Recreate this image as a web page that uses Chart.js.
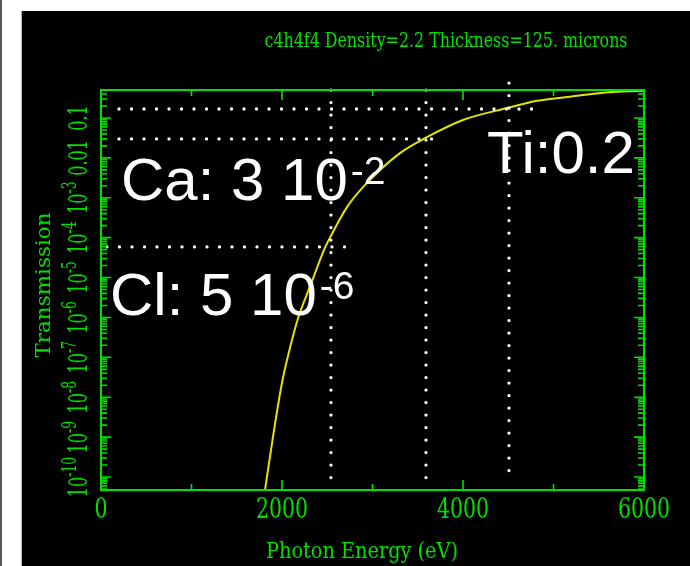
<!DOCTYPE html>
<html lang="en">
<head>
<meta charset="UTF-8">
<title>c4h4f4 transmission</title>
<script src="https://cdn.jsdelivr.net/npm/chart.js"></script>
<style>
  html, body { margin: 0; padding: 0; background: #fff; }
  body { width: 690px; height: 566px; position: relative; overflow: hidden; }
  #edge { position: absolute; left: 0; top: 0; width: 2px; height: 566px; background: #5a5a5a; }
  #panel { position: absolute; left: 21px; top: 11px; width: 669px; height: 555px; background: #000; border-left: 1px solid #b4b4b4; box-sizing: border-box; }
  #wrap { position: absolute; left: 0; top: 0; width: 690px; height: 566px; }
</style>
</head>
<body>
<div id="edge"></div>
<div id="panel"></div>
<div id="wrap"><canvas id="plot"></canvas></div>
<script>
// transmission curve
const energy = [1812, 1900, 2000, 2090, 2180, 2310, 2475, 2530, 2720, 2900, 3300, 3590, 4000, 4500, 4820, 5180, 5550, 6000];
const transmission = [4.7e-11, 1.0e-9, 2.3e-8, 1.8e-7, 1.0e-6, 6.0e-6, 5.6e-5, 1.0e-4, 5.9e-4, 1.9e-3, 1.3e-2, 3.2e-2, 8.9e-2, 0.18, 0.27, 0.34, 0.43, 0.48];

// marked lines (Cl, Ca, Ti)
const lineEnergy = [2541, 3591, 4508];
const lineLevel = [5.85e-5, 0.0298, 0.168];
const hLineFrom = [66, 199, 199];
const hLineTo = [2818, 3779, 4884];
const vLineTop = [0.5, 0.5, 0.75];
const vLineBottom = [5.6e-11, 5.6e-11, 7.9e-11];
const lineText = ['Cl: 5 10', 'Ca: 3 10', 'Ti:0.2'];
const lineSup = ['-6', '-2', ''];

const xMajor = [0, 2000, 4000, 6000];
const xMinor = [1000, 3000, 5000];
const yDecades = [-10, -9, -8, -7, -6, -5, -4, -3, -2, -1];

const GREEN = 'rgb(0,225,0)';
const SERIF = '"DejaVu Serif", "Liberation Serif", serif';

const datasets = [];
lineEnergy.forEach((e, i) => {
    const dotted = { borderColor: '#fff', borderWidth: 3.3, borderDash: [0, 12.5], borderCapStyle: 'round',
        pointRadius: 0, clip: false, tension: 0 };
    datasets.push(Object.assign({ data: [{ x: hLineFrom[i], y: lineLevel[i] }, { x: hLineTo[i], y: lineLevel[i] }] }, dotted));
    datasets.push(Object.assign({ data: [{ x: e, y: vLineTop[i] }, { x: e, y: vLineBottom[i] }] }, dotted));
});
datasets.push({
    data: energy.map((e, i) => ({ x: e, y: transmission[i] })),
    borderColor: 'rgb(228,228,0)', borderWidth: 2, pointRadius: 0,
    cubicInterpolationMode: 'monotone'
});

// draw text squeezed to a given width (the plot used a narrow vector font)
function fit(ctx, s, x, y, size, width, rot) {
    ctx.save();
    ctx.translate(x, y);
    if (rot) ctx.rotate(rot);
    ctx.font = size + 'px ' + SERIF;
    const w = ctx.measureText(s).width;
    ctx.scale(width / w, 1);
    ctx.textAlign = 'center';
    ctx.textBaseline = 'middle';
    ctx.fillText(s, 0, 0);
    ctx.restore();
}

const frame = {
    id: 'frame',
    afterDraw(chart) {
        const ctx = chart.ctx, a = chart.chartArea;
        const xs = chart.scales.x, ys = chart.scales.y;
        ctx.save();
        ctx.strokeStyle = GREEN;
        ctx.fillStyle = GREEN;
        ctx.lineWidth = 2;
        ctx.strokeRect(a.left, a.top, a.right - a.left, a.bottom - a.top);

        ctx.lineWidth = 1.6;
        ctx.beginPath();
        // x ticks, bottom and top
        xMajor.concat(xMinor).forEach(v => {
            const p = xs.getPixelForValue(v);
            const len = xMajor.includes(v) ? 10 : 6;
            ctx.moveTo(p, a.bottom); ctx.lineTo(p, a.bottom - len);
            ctx.moveTo(p, a.top); ctx.lineTo(p, a.top + len);
        });
        // y ticks, left and right
        for (let d = -11; d <= 0; d++) {
            for (let m = 1; m <= 9; m++) {
                const v = m * Math.pow(10, d);
                if (v < ys.min || v > ys.max) continue;
                const p = ys.getPixelForValue(v);
                const len = m === 1 ? 10 : 6;
                ctx.moveTo(a.left, p); ctx.lineTo(a.left + len, p);
                ctx.moveTo(a.right, p); ctx.lineTo(a.right - len, p);
            }
        }
        ctx.stroke();

        // x tick labels
        xMajor.forEach(v => {
            const s = String(v);
            fit(ctx, s, xs.getPixelForValue(v), a.bottom + 21, 27, s.length * 13);
        });

        // y tick labels, rotated, reading upward
        yDecades.forEach(d => {
            const p = ys.getPixelForValue(Math.pow(10, d));
            ctx.save();
            ctx.translate(a.left - 14, p);
            ctx.rotate(-Math.PI / 2);
            ctx.scale(0.62, 1);
            ctx.textBaseline = 'alphabetic';
            ctx.textAlign = 'left';
            if (d >= -2) {
                const s = d === -1 ? '0.1' : '0.01';
                ctx.font = '26px ' + SERIF;
                const w = ctx.measureText(s).width;
                ctx.fillText(s, -w / 2, 0);
            } else {
                ctx.font = '26px ' + SERIF;
                const w1 = ctx.measureText('10').width;
                ctx.font = '20px ' + SERIF;
                const w2 = ctx.measureText(String(d)).width;
                const x0 = -(w1 + w2) / 2;
                ctx.font = '26px ' + SERIF;
                ctx.fillText('10', x0, 0);
                ctx.font = '20px ' + SERIF;
                ctx.fillText(String(d), x0 + w1, -11);
            }
            ctx.restore();
        });

        // titles
        fit(ctx, 'c4h4f4 Density=2.2 Thickness=125. microns', 446, 42, 21, 363);
        fit(ctx, 'Photon Energy (eV)', 362, 552, 22, 192);
        fit(ctx, 'Transmission', 45, 285, 21, 145, -Math.PI / 2);

        // white annotations
        ctx.fillStyle = '#fff';
        ctx.textBaseline = 'alphabetic';
        ctx.textAlign = 'left';
        const anchors = [[110, 315], [121, 200], [487, 173]];
        lineText.forEach((s, i) => {
            const [x, y] = anchors[i];
            ctx.font = '60px "Liberation Sans", Arial, sans-serif';
            ctx.fillText(s, x, y);
            const w = ctx.measureText(s).width;
            if (lineSup[i]) {
                ctx.font = '39px "Liberation Sans", Arial, sans-serif';
                ctx.fillText(lineSup[i], x + w + 3, y - 16);
            }
        });
        ctx.restore();
    }
};

new Chart(document.getElementById('plot'), {
    type: 'line',
    data: { datasets },
    options: {
        responsive: true,
        maintainAspectRatio: false,
        animation: false,
        layout: { padding: { left: 101, right: 46, top: 90, bottom: 76 } },
        plugins: { legend: { display: false }, tooltip: { enabled: false } },
        scales: {
            x: { type: 'linear', min: 0, max: 6000, display: false },
            y: { type: 'logarithmic', min: 4.72e-11, max: 0.503, display: false }
        }
    },
    plugins: [frame]
});
</script>
</body>
</html>
